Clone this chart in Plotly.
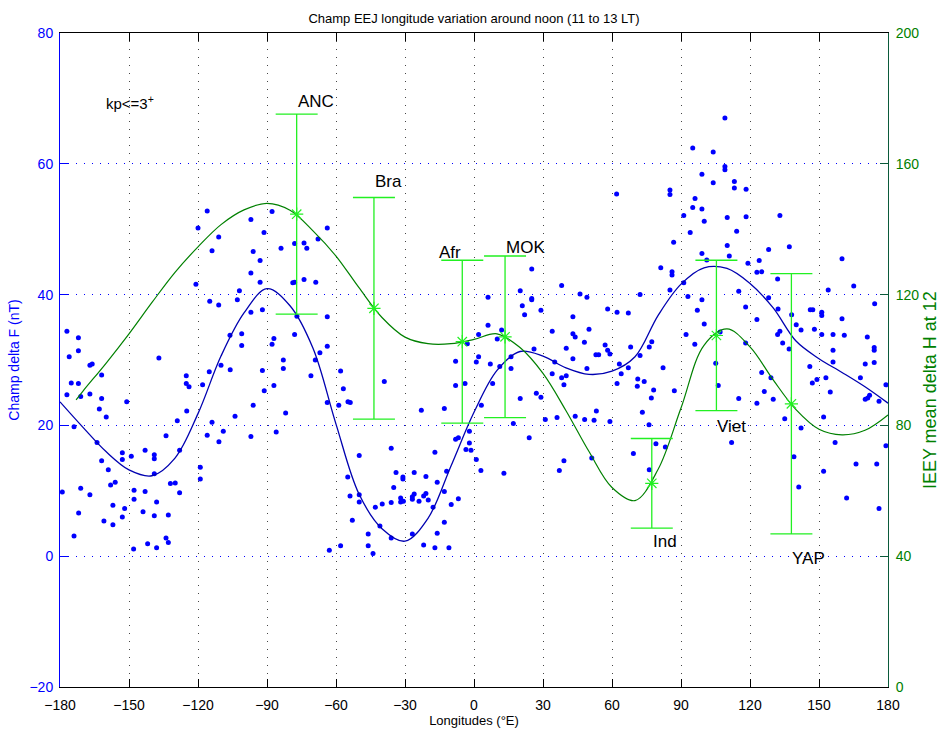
import plotly.graph_objects as go

# ---------------------------------------------------------------------------
# CHAMP delta F samples (longitude in degrees E, amplitude in nT)
# ---------------------------------------------------------------------------
champ_lon = [
    -116.0, -120.0, -111.0, -113.9, -97.0, -91.3, -96.0, -93.0, -97.0, -93.0,
    -102.0, -102.9, -114.9, -111.0, -120.9, -97.0, -92.0, -177.0, -172.0, -106.1,
    -101.0, -176.0, -172.0, -167.0, -166.0, -161.9, -175.1, -172.0, -177.0, -171.0,
    -167.0, -161.9, -162.9, -159.9, -151.0, -173.9, -137.0, -101.0, -110.0, -106.0,
    -115.1, -125.1, -125.1, -123.9, -118.0, -92.0, -91.2, -96.0, -103.9, -124.9,
    -129.0, -113.9, -109.0, -116.0, -110.9, -97.0, -133.9, -163.9, -161.9, -159.0,
    -152.9, -152.9, -149.0, -143.0, -139.0, -139.0, -139.0, -128.0, -119.0, -119.0,
    -158.0, -156.0, -179.0, -171.0, -167.0, -147.8, -143.0, -132.0, -129.9, -128.0,
    -147.8, -138.0, -157.0, -151.9, -171.9, -143.9, -139.0, -132.9, -160.9, -152.9,
    -157.0, -173.9, -133.9, -132.9, -141.9, -138.0, -148.0,
    -87.8, -63.8, -83.9, -78.0, -73.9, -72.7, -67.8, -78.8, -78.0, -73.9,
    -68.8, -77.0, -63.8, -87.0, -78.0, -87.8, -63.8, -67.0, -82.9, -69.0,
    -82.9, -70.9, -58.0, -87.0, -56.8, -63.8, -58.8, -54.8, -53.8, -81.9,
    -39.0, -86.0, -22.9, -12.9, -8.0, -8.0, -3.9, -2.9, -36.0, -49.9,
    -17.0, -8.0, -6.8, -2.0, -2.0, -3.5, -1.3, -54.9, -33.9, -30.9,
    -30.9, -26.0, -20.9, -11.9, -16.0, -34.9, -53.9, -49.9, -49.9, -42.9,
    -39.9, -36.0, -31.9, -31.9, -30.7, -26.8, -26.0, -26.8, -23.9, -21.9,
    -20.9, -19.9, -12.9, -17.8, -9.9, -6.8, -52.9, -40.9, -46.0, -36.0,
    -26.8, -16.0, -12.9, -62.9, -58.0, -46.0, -43.9, -21.9, -17.0, -10.9,
    62.0, 85.2, 85.2, 86.8, 81.2, 86.1, 86.1, 85.2, 72.2, 25.1,
    38.1, 20.1, 25.1, 25.1, 6.1, 46.1, 49.1, 21.0, 22.0, 29.1,
    58.1, 62.2, 67.1, 43.0, 6.1, 12.0, 34.0, 50.0, 43.0, 44.0,
    2.0, 10.1, 2.0, 1.0, 7.1, 11.2, 16.1, 16.1, 26.1, 40.1,
    48.0, 57.0, 58.1, 59.1, 53.0, 54.2, 68.1, 76.2, 77.3, 72.2,
    43.0, 35.1, 63.2, 67.1, 82.2, 49.1, 34.0, 38.1, 40.1, 39.1,
    64.0, 71.2, 74.0, 62.2, 71.0, 78.1, 87.1, 77.1, 8.1, 20.1,
    27.1, 29.1, 3.2, 31.0, 36.1, 44.0, 48.1, 52.2, 53.2, 59.1,
    73.2, 76.1, 17.1, 24.0, 1.0, 3.0, 13.0, 39.1, 37.1, 51.2,
    69.3, 79.1, 83.2, 76.2,
    109.1, 95.1, 104.0, 109.1, 109.1, 99.1, 104.0, 113.2, 113.2, 118.3,
    96.1, 95.1, 99.1, 100.1, 91.2, 110.1, 118.3, 133.0, 94.0, 114.2,
    110.1, 137.1, 128.1, 99.1, 111.0, 101.2, 119.1, 124.0, 160.0, 123.0,
    125.1, 132.0, 91.2, 93.0, 99.1, 115.1, 128.1, 154.0, 165.1, 174.2,
    97.1, 118.1, 132.2, 138.1, 146.2, 147.3, 151.2, 151.2, 160.0, 100.1,
    123.0, 140.1, 142.2, 148.0, 107.0, 133.0, 132.0, 92.2, 151.2, 156.1,
    161.0, 171.0, 96.0, 118.1, 134.2, 137.0, 174.0, 174.0, 156.1, 156.1,
    146.0, 170.1, 174.0, 105.1, 125.1, 129.1, 149.1, 147.1, 153.0, 168.0,
    179.1, 106.2, 126.2, 154.9, 115.1, 130.1, 123.0, 170.1, 171.2, 172.0,
    176.1, 152.0, 135.1, 142.2, 112.0, 157.0, 179.1, 139.1, 166.1, 175.1,
    152.0, 141.2, 162.0, 176.1,
]

champ_df = [
    52.8, 50.2, 48.8, 46.7, 51.5, 49.5, 46.6, 45.2, 43.3, 41.9,
    40.6, 39.2, 39.0, 38.4, 41.6, 37.3, 37.7, 34.4, 33.4, 33.8,
    34.0, 30.5, 31.4, 29.2, 29.4, 27.7, 26.5, 26.4, 24.7, 24.4,
    24.8, 24.1, 22.5, 21.3, 23.6, 19.8, 30.3, 32.2, 29.2, 28.5,
    28.2, 27.6, 26.4, 25.9, 26.2, 28.4, 25.3, 23.1, 21.4, 22.2,
    20.7, 20.5, 19.1, 18.5, 17.5, 18.3, 18.4, 17.4, 14.6, 13.2,
    15.8, 14.8, 15.3, 16.2, 15.5, 14.9, 12.6, 16.2, 13.6, 11.8,
    10.9, 11.3, 9.8, 10.4, 9.4, 10.1, 9.9, 11.1, 11.2, 9.7,
    8.7, 8.3, 7.8, 7.3, 6.6, 6.8, 6.2, 6.3, 5.4, 6.0,
    4.8, 3.1, 2.8, 2.1, 1.9, 1.3, 1.1,
    52.7, 50.2, 47.1, 47.8, 47.9, 47.1, 48.5, 41.8, 41.9, 42.3,
    41.9, 36.7, 36.6, 33.3, 33.9, 32.4, 32.1, 31.1, 30.0, 30.0,
    28.7, 27.6, 28.3, 26.1, 25.6, 23.5, 23.1, 23.6, 23.5, 21.9,
    26.7, 19.0, 22.3, 22.6, 29.8, 26.1, 26.4, 32.5, 16.5, 15.4,
    15.9, 17.9, 18.1, 19.1, 17.3, 16.3, 16.2, 12.1, 12.8, 12.1,
    11.8, 12.8, 12.2, 13.0, 11.3, 10.5, 9.2, 9.4, 8.3, 7.5,
    8.0, 8.2, 8.9, 8.3, 8.4, 9.1, 9.5, 8.7, 8.4, 9.2,
    9.6, 8.6, 9.9, 7.5, 7.9, 8.8, 5.5, 4.6, 3.4, 2.8,
    3.4, 3.5, 5.2, 0.9, 1.6, 1.6, 0.4, 1.7, 1.3, 1.3,
    55.4, 56.0, 55.3, 48.0, 44.1, 43.5, 43.0, 40.7, 40.0, 43.9,
    41.4, 40.6, 39.4, 39.2, 39.6, 40.1, 39.6, 38.3, 36.9, 37.6,
    37.8, 37.3, 37.2, 36.6, 35.3, 34.6, 34.4, 34.7, 34.0, 33.5,
    33.9, 33.2, 30.5, 29.7, 29.4, 29.0, 30.5, 28.7, 31.7, 31.8,
    32.7, 32.3, 31.5, 30.9, 30.8, 30.8, 32.0, 32.0, 32.8, 30.7,
    30.2, 29.7, 29.4, 28.8, 28.8, 28.7, 27.9, 27.3, 27.6, 26.2,
    27.9, 27.1, 26.7, 26.4, 26.0, 25.4, 25.3, 24.2, 26.4, 24.1,
    24.9, 24.3, 23.1, 20.9, 21.2, 21.4, 20.9, 20.8, 22.2, 20.6,
    22.0, 20.1, 20.3, 18.1, 14.8, 13.1, 12.7, 14.6, 13.1, 15.0,
    15.7, 17.2, 16.7, 13.2,
    67.0, 62.4, 61.8, 59.6, 59.1, 58.4, 57.1, 57.3, 56.3, 56.1,
    54.7, 53.3, 53.1, 51.2, 52.1, 51.8, 51.9, 52.1, 49.5, 49.7,
    47.5, 47.3, 46.9, 46.3, 45.9, 45.3, 44.8, 45.2, 45.5, 43.4,
    43.5, 42.4, 41.8, 39.7, 39.2, 40.5, 39.5, 40.7, 41.3, 38.6,
    37.6, 38.1, 37.8, 36.9, 37.7, 37.7, 37.3, 36.8, 36.3, 35.5,
    36.2, 35.4, 34.6, 34.7, 34.3, 34.4, 33.9, 33.9, 33.9, 33.9,
    33.8, 33.5, 32.4, 32.6, 32.6, 31.7, 31.9, 31.5, 31.5, 29.7,
    29.0, 29.4, 29.6, 29.5, 28.1, 27.3, 27.0, 26.5, 27.3, 27.3,
    26.2, 26.1, 25.2, 25.1, 24.1, 24.0, 23.4, 24.0, 24.2, 24.6,
    23.7, 21.3, 21.0, 19.6, 17.4, 17.4, 16.9, 15.2, 14.1, 14.1,
    13.0, 10.6, 8.9, 7.3,
]

# Smoothed CHAMP longitude profile (nT), every 10 degrees
fit_lon = [-180, -170, -160, -150, -140, -130, -120, -110, -100, -90,
           -80, -70, -60, -50, -40, -30, -20, -10, 0, 10,
           20, 30, 40, 50, 60, 70, 80, 90, 100, 110,
           120, 130, 140, 150, 160, 170, 180]
champ_fit = [23.6, 19.7, 16.0, 13.2, 12.3, 15.0, 21.8, 30.6, 37.2, 40.9,
             38.3, 31.8, 20.2, 9.5, 4.2, 2.3, 5.8, 13.8, 22.0, 28.4,
             31.3, 30.6, 28.8, 27.8, 28.3, 30.5, 36.8, 41.6, 44.1, 44.0,
             41.7, 38.0, 32.9, 30.2, 28.1, 25.9, 23.4]

# Smoothed ground (IEEY) delta H profile (nT)
ieey_lon = [-173, -170, -160, -150, -140, -130, -120, -110, -100, -90,
            -80, -70, -60, -50, -40, -30, -20, -10, 0, 10,
            20, 30, 40, 50, 60, 70, 80, 90, 100, 110,
            120, 130, 140, 150, 160, 170, 180]
ieey_fit = [87.8, 90.5, 99.0, 108.0, 117.6, 126.8, 134.6, 141.4, 145.9, 147.9,
            145.8, 139.5, 131.8, 122.1, 113.0, 107.0, 105.0, 105.0, 106.3, 108.0,
            103.8, 95.9, 84.5, 72.0, 61.0, 57.0, 66.5, 85.3, 104.5, 109.5,
            104.0, 94.0, 84.8, 78.8, 77.1, 78.5, 83.2]

# Ground stations: mean delta H at 12 LT and spread
stations = ["ANC", "Bra", "Afr", "MOK", "Ind", "Viet", "YAP"]
station_lon = [-77.1, -43.5, -5.1, 13.5, 77.3, 105.4, 138.0]
station_dh = [144.6, 115.8, 105.6, 107.1, 62.3, 107.5, 86.6]
station_err = [30.6, 33.9, 24.9, 24.7, 13.7, 23.0, 39.8]

x_ticks = [-180, -150, -120, -90, -60, -30, 0, 30, 60, 90, 120, 150, 180]
y_ticks = [-20, 0, 20, 40, 60, 80]
y2_ticks = [0, 40, 80, 120, 160, 200]

FONT = "Liberation Sans, Arial, Helvetica, sans-serif"
BLUE = "#0000ff"
NAVY = "#0000b0"
DKGREEN = "#008000"
LIME = "#22f022"

fig = go.Figure()

fig.add_trace(go.Scatter(
    x=champ_lon, y=champ_df, mode="markers",
    marker=dict(color=BLUE, size=5, line=dict(width=0)),
    yaxis="y", hoverinfo="skip",
))

fig.add_trace(go.Scatter(
    x=fit_lon, y=champ_fit, mode="lines",
    line=dict(color=NAVY, width=1.3, shape="spline", smoothing=1.0),
    yaxis="y", hoverinfo="skip",
))

fig.add_trace(go.Scatter(
    x=ieey_lon, y=ieey_fit, mode="lines",
    line=dict(color=DKGREEN, width=1.2, shape="spline", smoothing=1.0),
    yaxis="y2", hoverinfo="skip",
))

fig.add_trace(go.Scatter(
    x=station_lon, y=station_dh, mode="markers",
    marker=dict(symbol="asterisk-open", size=11, color=LIME,
                line=dict(color=LIME, width=1.2)),
    error_y=dict(type="data", array=station_err, symmetric=True,
                 color=LIME, thickness=1.3, width=21),
    yaxis="y2", hoverinfo="skip",
))

# Station names: above the upper whisker or below the lower one
label_side = ["above", "above", "above", "above", "below", "below", "below"]
label_gap = [1, 4, -4, -3, 2, 4, 13]
label_anchor = ["left", "left", "right", "left", "left", "left", "left"]
for name, lon, dh, err, side, gap, anc in zip(stations, station_lon, station_dh,
                                               station_err, label_side, label_gap,
                                               label_anchor):
    if side == "above":
        fig.add_annotation(x=lon, y=dh + err, xref="x", yref="y2", text=name,
                           showarrow=False, xanchor=anc, yanchor="bottom",
                           yshift=gap, xshift=-1 if anc == "left" else 1,
                           font=dict(family=FONT, size=17, color="black"))
    else:
        fig.add_annotation(x=lon, y=dh - err, xref="x", yref="y2", text=name,
                           showarrow=False, xanchor=anc, yanchor="top",
                           yshift=-gap, xshift=-1,
                           font=dict(family=FONT, size=17, color="black"))

fig.add_annotation(x=0.053, y=0.893, xref="paper", yref="paper",
                   text="kp<=3<sup>+</sup>", showarrow=False,
                   xanchor="left", yanchor="middle",
                   font=dict(family=FONT, size=15, color="black"))

# Right-hand axis label, written beside the green scale
fig.add_annotation(x=1.0, y=0.454, xref="paper", yref="paper",
                   xshift=42, text="IEEY mean delta H at 12", textangle=-90,
                   showarrow=False, xanchor="center", yanchor="middle",
                   font=dict(family=FONT, size=18, color=DKGREEN))

fig.update_layout(
    width=940, height=732,
    margin=dict(l=60, r=52, t=33, b=45),
    paper_bgcolor="white", plot_bgcolor="white",
    showlegend=False,
    font=dict(family=FONT, size=14, color="black"),
    title=dict(text="Champ EEJ longitude variation around noon (11 to 13 LT)",
               x=0.5, xref="paper", xanchor="center",
               y=1 - 18 / 732, yref="container", yanchor="middle",
               font=dict(family=FONT, size=13, color="black")),
    xaxis=dict(
        range=[-180, 180], tickmode="array", tickvals=x_ticks,
        automargin=False,
        ticks="inside", ticklen=8, tickwidth=1, tickcolor="black",
        showline=True, linecolor="black", linewidth=1, mirror="ticks",
        showgrid=True, gridcolor="rgb(70,70,70)", gridwidth=1,
        griddash="1px,7px", zeroline=False,
        tickfont=dict(family=FONT, size=14, color="black"),
        ticklabelstandoff=5,
        title=dict(text="Longitudes (°E)", standoff=2,
                   font=dict(family=FONT, size=13, color="black")),
    ),
    yaxis=dict(
        range=[-20, 80], tickmode="array", tickvals=y_ticks,
        automargin=False,
        ticks="inside", ticklen=8, tickwidth=1, tickcolor=BLUE,
        showline=True, linecolor=BLUE, linewidth=1,
        showgrid=True, gridcolor=BLUE, gridwidth=1,
        griddash="1px,7px", zeroline=False,
        tickfont=dict(family=FONT, size=14, color=BLUE),
        ticklabelstandoff=3,
        title=dict(text="Champ delta F (nT)", standoff=6,
                   font=dict(family=FONT, size=14, color=BLUE)),
    ),
    yaxis2=dict(
        range=[0, 200], tickmode="array", tickvals=y2_ticks,
        overlaying="y", side="right", automargin=False,
        ticks="inside", ticklen=8, tickwidth=1, tickcolor="#0a5a3a",
        showline=True, linecolor="#0a5a3a", linewidth=1,
        showgrid=False, zeroline=False,
        tickfont=dict(family=FONT, size=14, color=DKGREEN),
        ticklabelstandoff=4,
    ),
)

fig.write_html("out.html")
